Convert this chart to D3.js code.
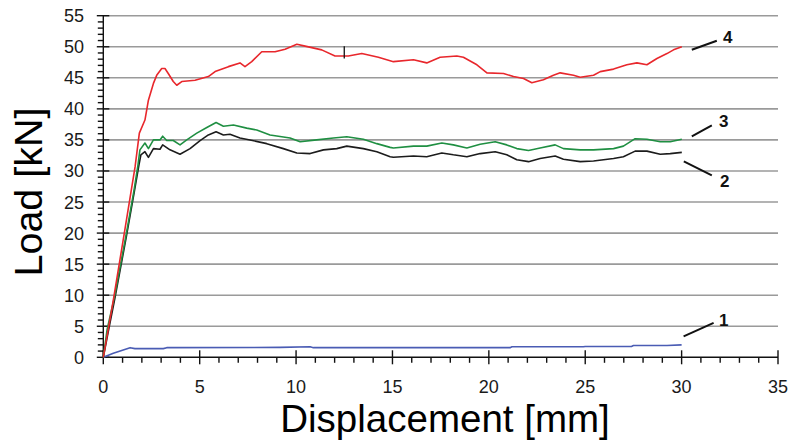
<!DOCTYPE html>
<html>
<head>
<meta charset="utf-8">
<script src="https://cdn.jsdelivr.net/npm/d3@7"></script>
<style>
  html, body { margin: 0; padding: 0; background: #fff; }
  svg { display: block; font-family: "Liberation Sans", Arial, sans-serif; }
</style>
</head>
<body>
<svg id="chart" width="793" height="443"></svg>
<script>
// Load–displacement curves of four specimens (x: mm, y: kN)
const xTicks = [0, 5, 10, 15, 20, 25, 30, 35];
const yTicks = [0, 5, 10, 15, 20, 25, 30, 35, 40, 45, 50, 55];

const seriesNames = ["1", "2", "3", "4"];

const disp1 = [0, 0.52, 1.39, 1.64, 3.11, 3.29, 9.17, 10.73, 10.9, 21.1, 21.2, 24.9, 25.0, 27.4, 27.5, 29.24, 30.0];
const load1 = [0, 0.64, 1.55, 1.4, 1.4, 1.55, 1.6, 1.7, 1.55, 1.55, 1.7, 1.7, 1.75, 1.75, 1.9, 1.9, 2.0];

const disp2 = [0, 0.25, 0.6, 1.2, 1.6, 1.85, 1.95, 2.16, 2.34, 2.6, 2.94, 3.08, 3.46, 3.98, 4.5, 5.02, 5.45, 5.85, 6.23, 6.57, 7.09, 7.61, 8.48, 9.34, 10.04, 10.73, 11.42, 12.11, 12.63, 13.49, 14.19, 14.88, 15.05, 16.09, 16.78, 17.56, 18.16, 18.86, 19.55, 20.33, 20.93, 21.45, 22.06, 22.66, 23.44, 23.87, 24.74, 25.43, 26.47, 26.98, 27.59, 28.2, 28.89, 29.41, 30.01];
const load2 = [0, 4.0, 9.5, 19.5, 26.5, 31.0, 32.6, 33.1, 32.2, 33.6, 33.5, 34.2, 33.4, 32.7, 33.6, 34.9, 35.8, 36.3, 35.8, 35.9, 35.3, 35.0, 34.4, 33.6, 32.9, 32.8, 33.4, 33.6, 34.0, 33.6, 33.1, 32.3, 32.2, 32.4, 32.3, 32.9, 32.6, 32.3, 32.8, 33.1, 32.6, 31.8, 31.5, 32.0, 32.4, 31.9, 31.5, 31.6, 32.0, 32.3, 33.2, 33.2, 32.7, 32.8, 33.0];

const disp3 = [0, 0.2, 0.6, 1.2, 1.6, 1.8, 1.9, 2.16, 2.34, 2.6, 2.94, 3.08, 3.29, 3.63, 3.98, 4.33, 4.85, 5.37, 5.85, 6.23, 6.75, 7.44, 7.96, 8.65, 9.69, 10.21, 11.07, 11.94, 12.63, 13.49, 14.19, 14.88, 15.05, 16.09, 16.78, 17.56, 18.16, 18.86, 19.55, 20.33, 20.93, 21.45, 22.06, 22.66, 23.44, 23.87, 24.74, 25.43, 26.47, 26.98, 27.59, 28.2, 28.89, 29.41, 30.01];
const load3 = [0, 4.5, 10.0, 20.0, 27.0, 31.0, 33.4, 34.5, 33.6, 35.0, 35.0, 35.6, 34.9, 34.9, 34.2, 35.0, 36.1, 37.0, 37.8, 37.2, 37.4, 36.9, 36.6, 35.8, 35.3, 34.7, 35.0, 35.3, 35.5, 35.1, 34.4, 33.8, 33.7, 34.0, 34.0, 34.5, 34.2, 33.7, 34.3, 34.7, 34.2, 33.6, 33.3, 33.7, 34.2, 33.6, 33.4, 33.4, 33.6, 34.0, 35.2, 35.1, 34.7, 34.7, 35.1];

const disp4 = [0, 0.52, 1.09, 1.65, 1.87, 2.16, 2.34, 2.6, 2.77, 3.03, 3.2, 3.37, 3.63, 3.81, 4.07, 4.76, 5.45, 5.8, 6.49, 7.09, 7.35, 7.7, 8.22, 8.91, 9.43, 10.04, 10.47, 11.33, 12.02, 12.71, 13.41, 14.27, 15.05, 16.09, 16.78, 17.47, 18.34, 18.68, 19.38, 19.9, 20.76, 21.28, 21.8, 22.23, 22.83, 23.35, 23.7, 24.39, 24.74, 25.43, 25.78, 26.47, 27.16, 27.68, 28.2, 28.72, 29.24, 29.58, 30.01];
const load4 = [0, 9.2, 20.0, 30.7, 36.1, 38.2, 41.4, 44.1, 45.4, 46.5, 46.5, 45.7, 44.4, 43.8, 44.4, 44.6, 45.2, 46.0, 46.8, 47.4, 46.8, 47.6, 49.2, 49.2, 49.6, 50.4, 50.1, 49.5, 48.5, 48.5, 48.9, 48.3, 47.6, 47.9, 47.4, 48.3, 48.5, 48.3, 47.1, 45.8, 45.7, 45.2, 44.9, 44.2, 44.7, 45.4, 45.8, 45.4, 45.1, 45.4, 46.0, 46.4, 47.1, 47.4, 47.1, 48.1, 48.9, 49.5, 50.0];

// short vertical marker on curve 4
const markerX = 12.5;
const markerY = [48.1, 50.1];

const colors = ["#4a5cb4", "#1c1c1c", "#1f8f42", "#e8272c"];

const svg = d3.select("#chart");
const x = d3.scaleLinear().domain([0, 35]).range([103.3, 778]);
const y = d3.scaleLinear().domain([0, 55]).range([357.3, 15.7]);

// horizontal grid
svg.append("g")
  .selectAll("line")
  .data(yTicks.filter(d => d > 0))
  .join("line")
  .attr("x1", x(0)).attr("x2", x(35))
  .attr("y1", d => y(d)).attr("y2", d => y(d))
  .attr("stroke", "#9a9a9a").attr("stroke-width", 1.6);

// minor ticks (every 1 unit)
const yMinor = d3.range(0, 56).filter(v => v % 5 !== 0);
const xMinor = d3.range(0, 36).filter(v => v % 5 !== 0);

const axisG = svg.append("g").attr("stroke", "#111").attr("stroke-width", 1.4);
axisG.selectAll(".ym").data(yMinor).join("line")
  .attr("x1", x(0) - 5.5).attr("x2", x(0))
  .attr("y1", d => y(d)).attr("y2", d => y(d));
axisG.selectAll(".yM").data(yTicks).join("line")
  .attr("x1", x(0) - 6.5).attr("x2", x(0) + 6)
  .attr("y1", d => y(d)).attr("y2", d => y(d));
axisG.selectAll(".xm").data(xMinor).join("line")
  .attr("y1", y(0)).attr("y2", y(0) + 5.5)
  .attr("x1", d => x(d)).attr("x2", d => x(d));
axisG.selectAll(".xM").data(xTicks).join("line")
  .attr("y1", y(0) - 7).attr("y2", y(0) + 7)
  .attr("x1", d => x(d)).attr("x2", d => x(d));
axisG.append("line").attr("x1", x(0)).attr("x2", x(0)).attr("y1", y(0)).attr("y2", y(55));
axisG.append("line").attr("x1", x(0)).attr("x2", x(35)).attr("y1", y(0)).attr("y2", y(0));

// tick labels
svg.append("g").selectAll("text").data(yTicks).join("text")
  .attr("x", 84).attr("y", d => y(d)).attr("dy", "0.36em")
  .attr("text-anchor", "end").attr("font-size", 18).attr("fill", "#1a1a1a")
  .text(d => d);
svg.append("g").selectAll("text").data(xTicks).join("text")
  .attr("x", d => x(d)).attr("y", 393)
  .attr("text-anchor", "middle").attr("font-size", 18).attr("fill", "#1a1a1a")
  .text(d => d);

// axis titles
svg.append("text")
  .attr("x", 445).attr("y", 432)
  .attr("text-anchor", "middle").attr("font-size", 38.5).attr("fill", "#000")
  .text("Displacement [mm]");
svg.append("text")
  .attr("transform", "translate(42,192) rotate(-90)")
  .attr("text-anchor", "middle").attr("font-size", 39.5).attr("fill", "#000")
  .text("Load [kN]");

// curves
const series = [
  { name: seriesNames[0], xs: disp1, ys: load1 },
  { name: seriesNames[1], xs: disp2, ys: load2 },
  { name: seriesNames[2], xs: disp3, ys: load3 },
  { name: seriesNames[3], xs: disp4, ys: load4 }
];
const line = d3.line().x(d => x(d[0])).y(d => y(d[1])).curve(d3.curveLinear);

svg.append("g").selectAll("path").data(series).join("path")
  .attr("d", s => line(s.xs.map((v, i) => [v, s.ys[i]])))
  .attr("fill", "none")
  .attr("stroke", (s, i) => colors[i])
  .attr("stroke-width", 1.6)
  .attr("stroke-linejoin", "round");

svg.append("line")
  .attr("x1", x(markerX)).attr("x2", x(markerX))
  .attr("y1", y(markerY[0])).attr("y2", y(markerY[1]))
  .attr("stroke", "#111").attr("stroke-width", 1.3);

// curve labels with leader lines, placed relative to each curve's end point
const labelOffsets = [
  { a: [2, -8.5], b: [32, -22], t: [42, -25] },
  { a: [2, 9], b: [30, 23], t: [43, 29] },
  { a: [10, -3], b: [30, -14], t: [42, -18] },
  { a: [10, 3], b: [35, -6], t: [46, -10] }
];
const lab = svg.append("g");
series.forEach((s, i) => {
  const ex = x(s.xs[s.xs.length - 1]);
  const ey = y(s.ys[s.ys.length - 1]);
  const o = labelOffsets[i];
  lab.append("line")
    .attr("x1", ex + o.a[0]).attr("y1", ey + o.a[1])
    .attr("x2", ex + o.b[0]).attr("y2", ey + o.b[1])
    .attr("stroke", "#111").attr("stroke-width", 2);
  lab.append("text")
    .attr("x", ex + o.t[0]).attr("y", ey + o.t[1]).attr("dy", "0.36em")
    .attr("text-anchor", "middle").attr("font-size", 17).attr("font-weight", "bold")
    .attr("fill", "#111")
    .text(s.name);
});
</script>
</body>
</html>
